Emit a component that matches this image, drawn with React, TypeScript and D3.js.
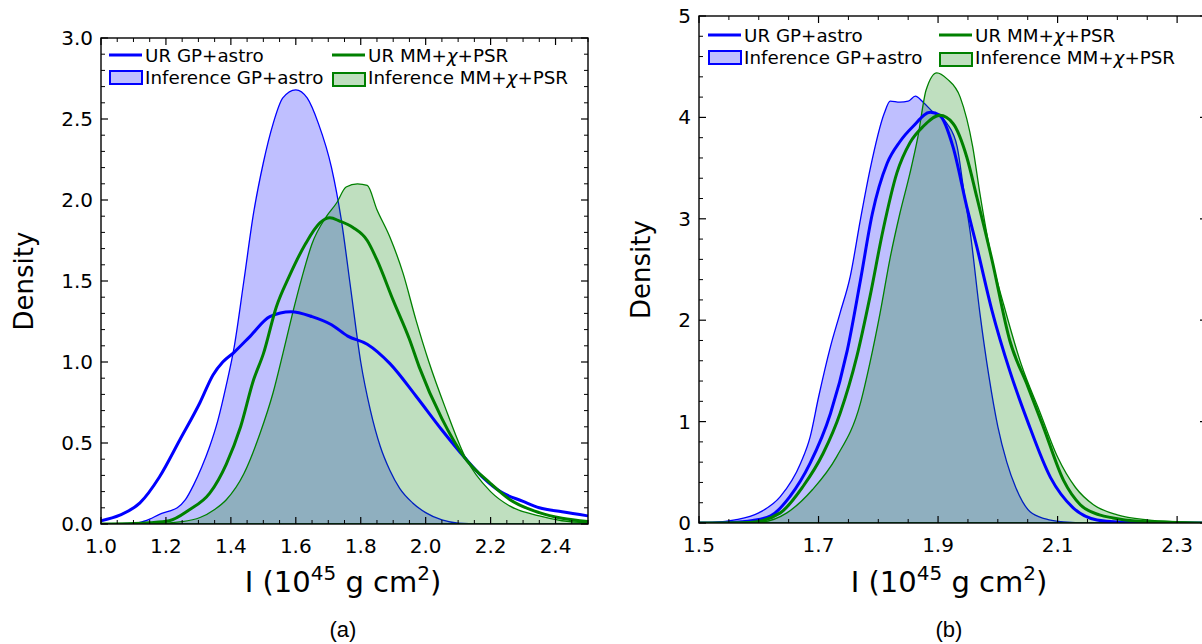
import React from 'react';
import * as d3 from 'd3';

// ---------- data: panel (a) ----------
const aInfGPx = [1.0, 1.08, 1.12, 1.15, 1.18, 1.21, 1.235, 1.26, 1.285, 1.31, 1.335, 1.36, 1.385, 1.41, 1.44, 1.47, 1.5, 1.53, 1.56, 1.6, 1.635, 1.67, 1.71, 1.74, 1.77, 1.8, 1.83, 1.86, 1.89, 1.92, 1.96, 2.0, 2.05, 2.1, 2.2, 2.5];
const aInfGPy = [0, 0.003, 0.01, 0.03, 0.06, 0.08, 0.1, 0.15, 0.24, 0.35, 0.48, 0.64, 0.85, 1.09, 1.5, 1.92, 2.23, 2.47, 2.63, 2.68, 2.63, 2.47, 2.2, 1.88, 1.44, 1.0, 0.7, 0.48, 0.33, 0.22, 0.13, 0.07, 0.025, 0.006, 0, 0];

const aURGPx = [1.0, 1.058, 1.12, 1.18, 1.243, 1.305, 1.345, 1.375, 1.41, 1.46, 1.52, 1.585, 1.65, 1.71, 1.76, 1.82, 1.89, 1.97, 2.05, 2.12, 2.18, 2.23, 2.3, 2.35, 2.42, 2.5];
const aURGPy = [0.02, 0.055, 0.13, 0.29, 0.52, 0.75, 0.92, 1.0, 1.06, 1.16, 1.28, 1.31, 1.28, 1.23, 1.16, 1.11, 0.99, 0.79, 0.58, 0.41, 0.28, 0.2, 0.14, 0.1, 0.075, 0.05];

const aURMMx = [1.0, 1.1, 1.15, 1.21, 1.27, 1.335, 1.386, 1.43, 1.47, 1.5, 1.54, 1.58, 1.63, 1.675, 1.705, 1.735, 1.776, 1.82, 1.85, 1.9, 1.95, 1.98, 2.05, 2.12, 2.2, 2.26, 2.35, 2.42, 2.5];
const aURMMy = [0, 0.003, 0.008, 0.02, 0.085, 0.19, 0.37, 0.6, 0.89, 1.05, 1.34, 1.53, 1.73, 1.86, 1.89, 1.87, 1.83, 1.75, 1.63, 1.38, 1.14, 0.97, 0.65, 0.41, 0.25, 0.15, 0.07, 0.035, 0.015];

const aInfMMx = [1.0, 1.15, 1.25, 1.305, 1.35, 1.386, 1.44, 1.49, 1.53, 1.56, 1.59, 1.62, 1.65, 1.695, 1.725, 1.755, 1.79, 1.82, 1.85, 1.89, 1.93, 1.97, 2.01, 2.06, 2.12, 2.2, 2.26, 2.35, 2.42, 2.5];
const aInfMMy = [0, 0.002, 0.015, 0.04, 0.09, 0.15, 0.31, 0.56, 0.81, 1.05, 1.3, 1.53, 1.73, 1.9, 1.98, 2.08, 2.1, 2.09, 1.94, 1.77, 1.55, 1.26, 1.0, 0.72, 0.42, 0.2, 0.11, 0.05, 0.02, 0.008];

// ---------- data: panel (b) ----------
const bInfGPx = [1.5, 1.527, 1.56, 1.6, 1.636, 1.67, 1.686, 1.7, 1.72, 1.736, 1.753, 1.77, 1.786, 1.81, 1.82, 1.836, 1.85, 1.862, 1.875, 1.892, 1.915, 1.932, 1.943, 1.954, 1.97, 1.985, 2.0, 2.015, 2.03, 2.054, 2.08, 2.11, 2.15, 2.35];
const bInfGPy = [0, 0.005, 0.03, 0.1, 0.26, 0.59, 0.85, 1.24, 1.74, 2.07, 2.43, 2.99, 3.48, 4.04, 4.16, 4.15, 4.16, 4.21, 4.15, 4.05, 3.94, 3.71, 3.28, 2.86, 2.07, 1.45, 0.95, 0.6, 0.35, 0.11, 0.04, 0.01, 0, 0];

const bURGPx = [1.5, 1.55, 1.59, 1.62, 1.652, 1.686, 1.72, 1.748, 1.77, 1.79, 1.815, 1.836, 1.858, 1.887, 1.903, 1.925, 1.948, 1.965, 1.99, 2.02, 2.05, 2.088, 2.126, 2.166, 2.2, 2.35];
const bURGPy = [0, 0.005, 0.025, 0.07, 0.26, 0.59, 1.08, 1.7, 2.39, 3.05, 3.55, 3.76, 3.91, 4.05, 4.02, 3.71, 3.12, 2.72, 2.1, 1.5, 1.0, 0.45, 0.15, 0.03, 0.01, 0];

const bURMMx = [1.5, 1.585, 1.636, 1.674, 1.708, 1.736, 1.764, 1.786, 1.808, 1.831, 1.853, 1.875, 1.903, 1.925, 1.948, 1.965, 1.99, 2.02, 2.05, 2.076, 2.11, 2.138, 2.17, 2.193, 2.23, 2.3, 2.35];
const bURMMy = [0, 0.005, 0.1, 0.36, 0.69, 1.08, 1.64, 2.23, 2.89, 3.45, 3.75, 3.91, 4.02, 3.94, 3.61, 3.21, 2.6, 1.8, 1.35, 0.95, 0.42, 0.18, 0.08, 0.05, 0.02, 0.005, 0];

const bInfMMx = [1.5, 1.597, 1.647, 1.69, 1.73, 1.77, 1.786, 1.803, 1.82, 1.836, 1.853, 1.866, 1.88, 1.898, 1.915, 1.937, 1.958, 1.97, 1.99, 2.01, 2.04, 2.07, 2.1, 2.13, 2.16, 2.2, 2.25, 2.3, 2.35];
const bInfMMy = [0, 0.005, 0.1, 0.33, 0.65, 1.18, 1.58, 2.07, 2.62, 3.05, 3.45, 3.8, 4.27, 4.44, 4.38, 4.2, 3.71, 3.25, 2.6, 2.15, 1.55, 1.1, 0.65, 0.35, 0.18, 0.08, 0.03, 0.01, 0];

// ---------- ticks ----------
const aXMajor = [1.0, 1.2, 1.4, 1.6, 1.8, 2.0, 2.2, 2.4];
const aYMajor = [0, 0.5, 1.0, 1.5, 2.0, 2.5, 3.0];
const bXMajor = [1.5, 1.7, 1.9, 2.1, 2.3];
const bYMajor = [0, 1, 2, 3, 4, 5];

const legendLabels = ['UR GP+astro', 'Inference GP+astro', 'UR MM+', 'Inference MM+'];

const BLUE = '#0000ff';
const GREEN = '#008000';
const FONT = 'DejaVu Sans, sans-serif';

function range(a: number, b: number, step: number) {
  const out: number[] = [];
  const n = Math.round((b - a) / step);
  for (let i = 0; i <= n; i++) out.push(+(a + i * step).toFixed(6));
  return out;
}

function zip(xs: number[], ys: number[]) {
  return xs.map((x, i) => [x, ys[i]] as [number, number]);
}

type PanelProps = {
  id: string;
  x0: number; x1: number; y0: number; y1: number;
  xDomain: [number, number]; yDomain: [number, number];
  xMajor: number[]; xMinorStep: number;
  yMajor: number[]; yMinorStep: number;
  xFmt: (v: number) => string; yFmt: (v: number) => string;
  infGP: [number, number][]; urGP: [number, number][];
  infMM: [number, number][]; urMM: [number, number][];
  legX: number; legX2: number; legY: number;
  yLabelX: number; caption: string; labelCx: number;
};

function Panel(p: PanelProps) {
  const xs = d3.scaleLinear().domain(p.xDomain).range([p.x0, p.x1]);
  const ys = d3.scaleLinear().domain(p.yDomain).range([p.y1, p.y0]);
  const line = d3.line<[number, number]>().x(d => xs(d[0])).y(d => ys(d[1])).curve(d3.curveMonotoneX);
  const area = d3.area<[number, number]>().x(d => xs(d[0])).y0(ys(0)).y1(d => ys(d[1])).curve(d3.curveMonotoneX);

  const xMinor = range(p.xDomain[0], p.xDomain[1], p.xMinorStep).filter(v => !p.xMajor.some(m => Math.abs(m - v) < 1e-6));
  const yMinor = range(p.yDomain[0], p.yDomain[1], p.yMinorStep).filter(v => !p.yMajor.some(m => Math.abs(m - v) < 1e-6));
  const MAJ = 7, MIN = 4;

  const ticks: JSX.Element[] = [];
  p.xMajor.forEach((v, i) => {
    const x = xs(v);
    ticks.push(<line key={'xb' + i} x1={x} x2={x} y1={p.y1} y2={p.y1 - MAJ} stroke="#000" strokeWidth={1.2} />);
    ticks.push(<line key={'xt' + i} x1={x} x2={x} y1={p.y0} y2={p.y0 + MAJ} stroke="#000" strokeWidth={1.2} />);
  });
  xMinor.forEach((v, i) => {
    const x = xs(v);
    ticks.push(<line key={'xbm' + i} x1={x} x2={x} y1={p.y1} y2={p.y1 - MIN} stroke="#000" strokeWidth={1} />);
    ticks.push(<line key={'xtm' + i} x1={x} x2={x} y1={p.y0} y2={p.y0 + MIN} stroke="#000" strokeWidth={1} />);
  });
  p.yMajor.forEach((v, i) => {
    const y = ys(v);
    ticks.push(<line key={'yl' + i} x1={p.x0} x2={p.x0 + MAJ} y1={y} y2={y} stroke="#000" strokeWidth={1.2} />);
    ticks.push(<line key={'yr' + i} x1={p.x1} x2={p.x1 - MAJ} y1={y} y2={y} stroke="#000" strokeWidth={1.2} />);
  });
  yMinor.forEach((v, i) => {
    const y = ys(v);
    ticks.push(<line key={'ylm' + i} x1={p.x0} x2={p.x0 + MIN} y1={y} y2={y} stroke="#000" strokeWidth={1} />);
    ticks.push(<line key={'yrm' + i} x1={p.x1} x2={p.x1 - MIN} y1={y} y2={y} stroke="#000" strokeWidth={1} />);
  });

  const lx = p.legX, lx2 = p.legX2, ly = p.legY;
  const chi = <tspan fontStyle="italic">χ</tspan>;

  return (
    <g>
      <defs>
        <clipPath id={p.id + 'clip'}>
          <rect x={p.x0} y={p.y0} width={p.x1 - p.x0} height={p.y1 - p.y0} />
        </clipPath>
      </defs>
      <g clipPath={`url(#${p.id}clip)`}>
        <path d={area(p.infGP) || ''} fill={BLUE} fillOpacity={0.25} stroke={BLUE} strokeWidth={1.3} />
        <path d={area(p.infMM) || ''} fill={GREEN} fillOpacity={0.25} stroke={GREEN} strokeWidth={1.3} />
        <path d={line(p.urGP) || ''} fill="none" stroke={BLUE} strokeWidth={3} />
        <path d={line(p.urMM) || ''} fill="none" stroke={GREEN} strokeWidth={3} />
      </g>
      {ticks}
      <rect x={p.x0} y={p.y0} width={p.x1 - p.x0} height={p.y1 - p.y0} fill="none" stroke="#000" strokeWidth={1.4} />
      {p.xMajor.map((v, i) => (
        <text key={'xl' + i} x={xs(v)} y={p.y1 + 29} textAnchor="middle" fontFamily={FONT} fontSize={20}>{p.xFmt(v)}</text>
      ))}
      {p.yMajor.map((v, i) => (
        <text key={'yl' + i} x={p.x0 - 8} y={ys(v) + 7} textAnchor="end" fontFamily={FONT} fontSize={20}>{p.yFmt(v)}</text>
      ))}
      {/* axis labels */}
      <text x={p.labelCx} y={592} textAnchor="middle" fontFamily={FONT} fontSize={29}>
        I (10<tspan fontSize={20} dy={-12}>45</tspan><tspan dy={12}> g cm</tspan><tspan fontSize={20} dy={-12}>2</tspan><tspan dy={12}>)</tspan>
      </text>
      <text transform={`translate(${p.yLabelX},${(p.y0 + p.y1) / 2}) rotate(-90)`} textAnchor="middle" fontFamily={FONT} fontSize={26}>Density</text>
      <text x={p.labelCx} y={637} textAnchor="middle" fontFamily="Liberation Sans, Arial, sans-serif" fontSize={22}>{p.caption}</text>
      {/* legend */}
      <line x1={lx} x2={lx + 33} y1={ly} y2={ly} stroke={BLUE} strokeWidth={3} />
      <text x={lx + 36} y={ly + 7} fontFamily={FONT} fontSize={18.3}>{legendLabels[0]}</text>
      <rect x={lx + 1} y={ly + 16} width={32} height={13} fill={BLUE} fillOpacity={0.25} stroke={BLUE} strokeWidth={2} />
      <text x={lx + 36} y={ly + 29} fontFamily={FONT} fontSize={18.3}>{legendLabels[1]}</text>
      <line x1={lx2} x2={lx2 + 33} y1={ly} y2={ly} stroke={GREEN} strokeWidth={3} />
      <text x={lx2 + 36} y={ly + 7} fontFamily={FONT} fontSize={18.3}>{legendLabels[2]}{chi}+PSR</text>
      <rect x={lx2 + 1} y={ly + 18} width={32} height={13} fill={GREEN} fillOpacity={0.25} stroke={GREEN} strokeWidth={2} />
      <text x={lx2 + 36} y={ly + 29} fontFamily={FONT} fontSize={18.3}>{legendLabels[3]}{chi}+PSR</text>
    </g>
  );
}

export default function App() {
  return (
    <div style={{ position: 'absolute', left: 0, top: 0, width: 1202, height: 644, overflow: 'hidden', background: '#fff' }}>
      <svg width={1202} height={644} style={{ display: 'block' }}>
        <rect width={1202} height={644} fill="#fff" />
        <Panel
          id="a" x0={101} x1={588} y0={38} y1={524}
          xDomain={[1.0, 2.5]} yDomain={[0, 3.0]}
          xMajor={aXMajor} xMinorStep={0.05} yMajor={aYMajor} yMinorStep={0.1}
          xFmt={v => v.toFixed(1)} yFmt={v => v.toFixed(1)}
          infGP={zip(aInfGPx, aInfGPy)} urGP={zip(aURGPx, aURGPy)}
          infMM={zip(aInfMMx, aInfMMy)} urMM={zip(aURMMx, aURMMy)}
          legX={109} legX2={332} legY={55} yLabelX={33} caption="(a)" labelCx={343}
        />
        <Panel
          id="b" x0={699} x1={1207} y0={16} y1={523}
          xDomain={[1.5, 2.35]} yDomain={[0, 5]}
          xMajor={bXMajor} xMinorStep={0.05} yMajor={bYMajor} yMinorStep={0.2}
          xFmt={v => v.toFixed(1)} yFmt={v => v.toFixed(0)}
          infGP={zip(bInfGPx, bInfGPy)} urGP={zip(bURGPx, bURGPy)}
          infMM={zip(bInfMMx, bInfMMy)} urMM={zip(bURMMx, bURMMy)}
          legX={708} legX2={939} legY={35} yLabelX={650} caption="(b)" labelCx={949}
        />
      </svg>
    </div>
  );
}
